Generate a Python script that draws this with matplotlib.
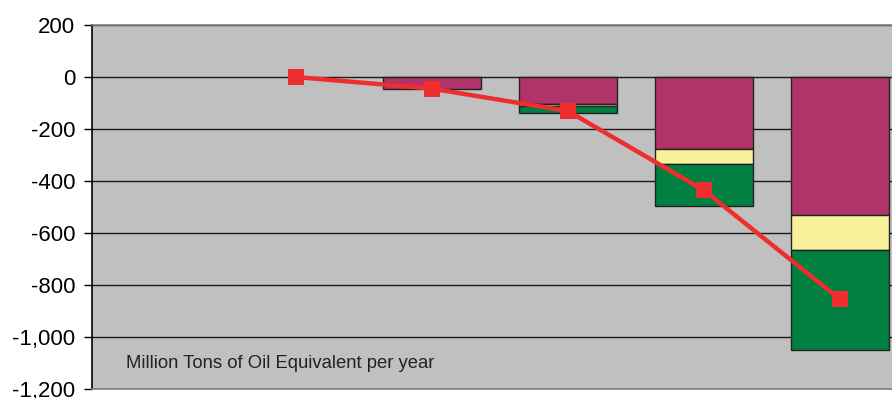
import matplotlib.pyplot as plt
from matplotlib.ticker import FuncFormatter
import numpy as np

plt.rcParams['font.family'] = ['Liberation Sans', 'DejaVu Sans']

# six categories, the first one has no data
cats = [0, 1, 2, 3, 4, 5]
magenta = [np.nan, np.nan, -45, -102, -278, -532]
yellow = [np.nan, np.nan, np.nan, -10, -58, -135]
green = [np.nan, np.nan, np.nan, -25, -161, -383]
total = [np.nan, 0, -45, -131, -436, -855]
yticks = [200, 0, -200, -400, -600, -800, -1000, -1200]

fig = plt.figure(figsize=(8.92, 3.98), dpi=100)
ax = fig.add_axes([92 / 892, 9 / 398, 816 / 892, 364 / 398])
ax.set_facecolor('#c0c0c0')

w = 0.72
edge = dict(edgecolor='#222222', linewidth=1.0, zorder=3)
ax.bar(cats, magenta, w, color='#b0336a', **edge)
ax.bar(cats, yellow, w, bottom=magenta, color='#f8f29a', **edge)
bot2 = [m + y for m, y in zip(magenta, yellow)]
ax.bar(cats, green, w, bottom=bot2, color='#008040', **edge)

ax.plot(cats, total, color='#ee2d2f', lw=3.2, marker='s', ms=11,
        markeredgewidth=0, zorder=4)

ax.set_xlim(-0.5, 5.5)
ax.set_ylim(-1200, 200)
ax.set_yticks(yticks)
ax.yaxis.set_major_formatter(FuncFormatter(lambda v, p: f"{v:,.0f}"))
ax.set_xticks([])
ax.yaxis.grid(True, color='#1a1a1a', lw=1.0)
ax.set_axisbelow(True)

ax.tick_params(axis='y', direction='out', length=6, width=1, labelsize=16,
               colors='black', pad=6)
for s in ['top', 'bottom', 'right']:
    ax.spines[s].set_color('#808080')
    ax.spines[s].set_linewidth(1.2)
ax.spines['left'].set_color('black')
ax.spines['left'].set_linewidth(1.2)

ax.text(34 / 816, 0.071, 'Million Tons of Oil Equivalent per year',
        transform=ax.transAxes, fontsize=13.3, color='#222222', va='center')

fig.savefig('out.png', dpi=100)
